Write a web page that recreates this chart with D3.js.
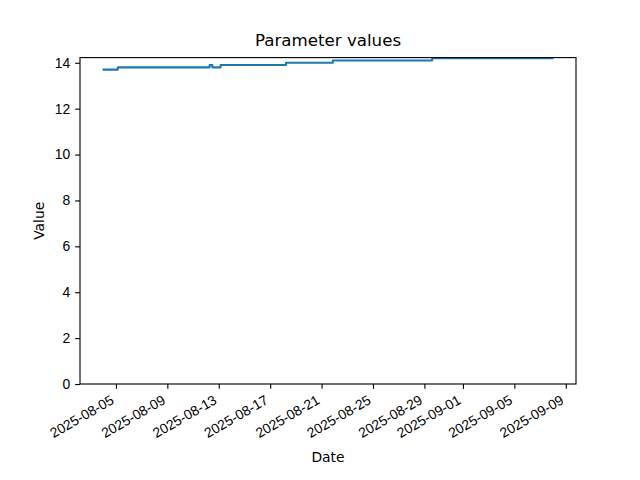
<!DOCTYPE html>
<html>
<head>
<meta charset="utf-8">
<script src="https://cdn.jsdelivr.net/npm/d3@7"></script>
<style>
body { margin: 0; background: #fff; }
svg { display: block; font-family: "DejaVu Sans", sans-serif; }
</style>
</head>
<body>
<svg id="chart" width="640" height="480"></svg>
<script>
// Observation timestamps (UTC) and parameter values
const times = [
  "2025-08-03T23:00", "2025-08-05T03:30", "2025-08-12T07:00", "2025-08-12T12:00",
  "2025-08-13T03:30", "2025-08-18T05:30", "2025-08-21T21:00", "2025-08-29T14:30",
  "2025-09-08T01:00"
];
const values = [13.7, 13.8, 13.9, 13.8, 13.9, 14.0, 14.1, 14.2, 14.2];
const tickDates = ["2025-08-05", "2025-08-09", "2025-08-13", "2025-08-17", "2025-08-21",
  "2025-08-25", "2025-08-29", "2025-09-01", "2025-09-05", "2025-09-09"];
const yTicks = [0, 2, 4, 6, 8, 10, 12, 14];

const parse = s => new Date(s + (s.length === 10 ? "T00:00Z" : "Z"));
const data = times.map((t, i) => ({ t: parse(t), v: values[i] }));

const pt = 100 / 72;
const svg = d3.select("#chart");
const mLeft = 80, mRight = 576, mTop = 57.6, mBottom = 384;

const tExt = d3.extent(data, d => d.t);
const span = tExt[1] - tExt[0];
const x = d3.scaleUtc()
  .domain([new Date(+tExt[0] - span * 0.05), new Date(+tExt[1] + span * 0.05)])
  .range([mLeft, mRight]);
const vMin = d3.min(values), vMax = d3.max(values);
const y = d3.scaleLinear()
  .domain([0, vMax + (vMax - vMin) * 0.05])
  .range([mBottom, mTop]);

svg.append("clipPath").attr("id", "clip")
  .append("rect").attr("x", mLeft).attr("y", mTop).attr("width", mRight - mLeft).attr("height", mBottom - mTop);

svg.append("path")
  .datum(data)
  .attr("clip-path", "url(#clip)")
  .attr("fill", "none")
  .attr("stroke", "#1f77b4")
  .attr("stroke-width", 1.5 * pt)
  .attr("stroke-linejoin", "round")
  .attr("d", d3.line().x(d => x(d.t)).y(d => y(d.v)).curve(d3.curveStepAfter));

const tl = 3.5 * pt;
const fs = 10 * pt;
const xAxis = d3.axisBottom(x)
  .tickValues(tickDates.map(parse))
  .tickFormat(d3.utcFormat("%Y-%m-%d"))
  .tickSize(tl).tickPadding(tl);
const gx = svg.append("g").attr("transform", `translate(0,${mBottom})`).call(xAxis);
gx.select(".domain").remove();
gx.selectAll(".tick line").attr("stroke", "#000").attr("stroke-width", 0.8 * pt);
// matplotlib-style rotated label: rotated bbox right at tick, bbox top below pad
const hBox = 0.97 * fs, desc = 0.21 * fs;
const c30 = Math.cos(Math.PI / 6);
const ax = -desc * 0.5, ay = 2 * tl + (hBox - desc) * c30;
gx.selectAll(".tick text")
  .attr("fill", "#000")
  .style("font-size", fs + "px")
  .attr("text-anchor", "end")
  .attr("y", 0).attr("dy", 0)
  .attr("transform", `translate(${ax},${ay}) rotate(-30)`);

const yAxis = d3.axisLeft(y).tickValues(yTicks).tickSize(tl).tickPadding(tl);
const gy = svg.append("g").attr("transform", `translate(${mLeft},0)`).call(yAxis);
gy.select(".domain").remove();
gy.selectAll(".tick line").attr("stroke", "#000").attr("stroke-width", 0.8 * pt);
gy.selectAll(".tick text").attr("fill", "#000").style("font-size", fs + "px");

svg.append("rect")
  .attr("x", mLeft).attr("y", mTop).attr("width", mRight - mLeft).attr("height", mBottom - mTop)
  .attr("fill", "none").attr("stroke", "#000").attr("stroke-width", 0.8 * pt);

svg.append("text").attr("x", (mLeft + mRight) / 2).attr("y", mTop - 6 * pt - 3)
  .attr("text-anchor", "middle").style("font-size", (12 * pt) + "px").text("Parameter values");
svg.append("text").attr("x", (mLeft + mRight) / 2).attr("y", 462)
  .attr("text-anchor", "middle").style("font-size", fs + "px").text("Date");
svg.append("text").attr("transform", `translate(44,${(mTop + mBottom) / 2}) rotate(-90)`)
  .attr("text-anchor", "middle").style("font-size", fs + "px").text("Value");
</script>
</body>
</html>
